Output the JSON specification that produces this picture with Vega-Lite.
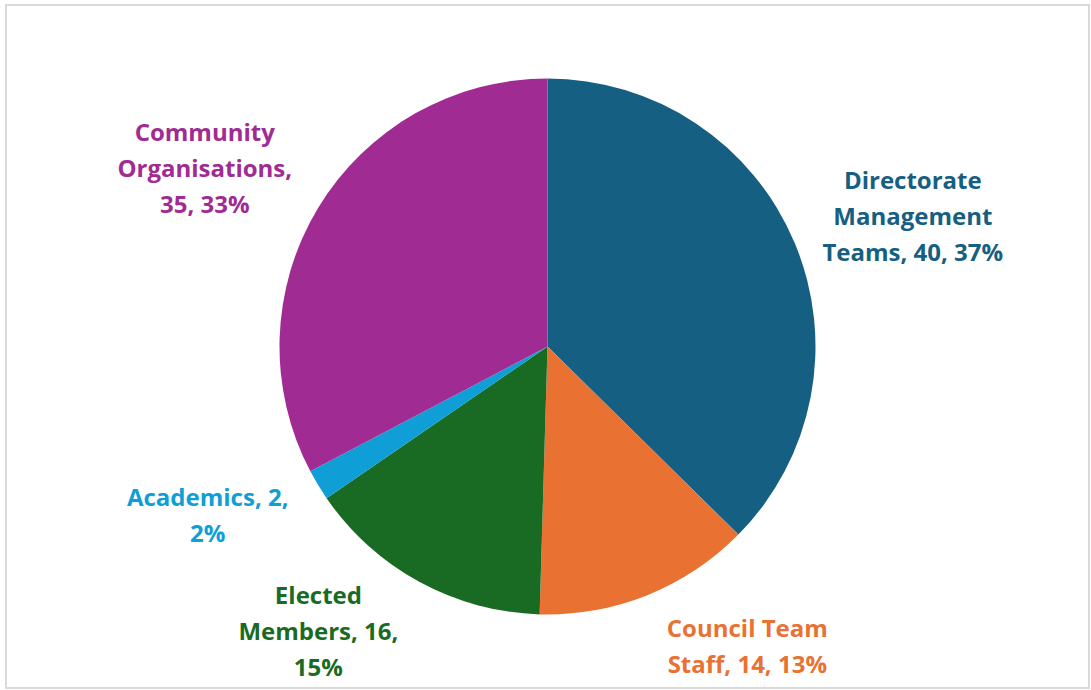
{
  "$schema": "https://vega.github.io/schema/vega-lite/v6.json",
  "autosize": "none",
  "padding": {"left": 6, "top": 5, "right": 2, "bottom": 2},
  "width": 1083,
  "height": 683,
  "background": "white",
  "view": {"stroke": "#d9d9d9", "strokeWidth": 2},
  "config": {
    "text": {"font": "Open Sans", "fontSize": 24, "fontWeight": "bold", "lineHeight": 36, "lineBreak": "\n"}
  },
  "data": {
    "values": [
      {"Group": "Directorate Management Teams", "Count": 40, "Rank": 1, "Label": "Directorate\nManagement\nTeams, 40, 37%"},
      {"Group": "Council Team Staff", "Count": 14, "Rank": 2, "Label": "Council Team\nStaff, 14, 13%"},
      {"Group": "Elected Members", "Count": 16, "Rank": 3, "Label": "Elected\nMembers, 16,\n15%"},
      {"Group": "Academics", "Count": 2, "Rank": 4, "Label": "Academics, 2,\n2%"},
      {"Group": "Community Organisations", "Count": 35, "Rank": 5, "Label": "Community\nOrganisations,\n35, 33%"}
    ]
  },
  "encoding": {
    "theta": {"field": "Count", "type": "quantitative", "stack": true},
    "order": {"field": "Rank", "type": "quantitative"},
    "color": {
      "field": "Group",
      "type": "nominal",
      "legend": null,
      "scale": {
        "domain": ["Directorate Management Teams", "Council Team Staff", "Elected Members", "Academics", "Community Organisations"],
        "range": ["#156082", "#e97132", "#196b24", "#0f9ed5", "#a02b93"]
      }
    }
  },
  "layer": [
    {"mark": {"type": "arc", "outerRadius": 268}},
    {
      "mark": {"type": "text", "radius": 370, "dx": 24, "dy": -22, "baseline": "middle", "lineBreak": "\n"},
      "encoding": {"text": {"condition": {"test": "datum.Rank === 1", "field": "Label"}, "value": ""}}
    },
    {
      "mark": {"type": "text", "radius": 370, "dx": 62, "dy": -60, "baseline": "middle", "lineBreak": "\n"},
      "encoding": {"text": {"condition": {"test": "datum.Rank === 2", "field": "Label"}, "value": ""}}
    },
    {
      "mark": {"type": "text", "radius": 370, "dx": -52, "dy": -74, "baseline": "middle", "lineBreak": "\n"},
      "encoding": {"text": {"condition": {"test": "datum.Rank === 3", "field": "Label"}, "value": ""}}
    },
    {
      "mark": {"type": "text", "radius": 370, "dx": -23, "dy": -39, "baseline": "middle", "lineBreak": "\n"},
      "encoding": {"text": {"condition": {"test": "datum.Rank === 4", "field": "Label"}, "value": ""}}
    },
    {
      "mark": {"type": "text", "radius": 370, "dx": -26, "dy": -21, "baseline": "middle", "lineBreak": "\n"},
      "encoding": {"text": {"condition": {"test": "datum.Rank === 5", "field": "Label"}, "value": ""}}
    }
  ]
}
